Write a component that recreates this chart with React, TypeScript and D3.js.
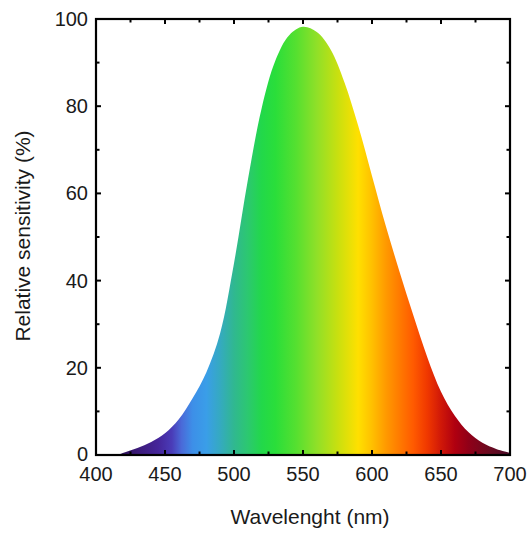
import React from "react";
import * as d3 from "d3";

const wavelengths = [416, 420, 430, 440, 450, 460, 470, 480, 490, 500, 510, 520, 530, 540, 550, 560, 570, 580, 590, 600, 610, 620, 630, 640, 650, 660, 670, 680, 690, 700];
const sensitivity = [0, 0.5, 1.6, 3.0, 5.0, 8.2, 13, 19, 28, 44, 63, 79.5, 90.5, 96.3, 98.2, 97.0, 93, 85.5, 75.5, 64, 52.5, 42, 32, 22.5, 14.5, 9, 5.2, 2.8, 1.4, 0.5];

const colorStops = [415, 430, 445, 455, 462, 470, 480, 490, 500, 510, 520, 530, 545, 560, 575, 590, 600, 610, 620, 630, 640, 650, 660, 670, 685, 700];
const colorValues = ["#2a1050", "#3b1a78", "#45259a", "#4a3cb8", "#4a6ad8", "#3d8fe8", "#3a9ee8", "#35aac0", "#30b890", "#2cc870", "#22d84a", "#2ade3a", "#55e030", "#90e028", "#c8e010", "#ffe000", "#ffc000", "#ff9a00", "#ff7a00", "#ff5a00", "#f03800", "#d01808", "#b00010", "#900018", "#6a0a20", "#4a0a28"];

const xTicks = [400, 450, 500, 550, 600, 650, 700];
const xMinor = [425, 475, 525, 575, 625, 675];
const yTicks = [0, 20, 40, 60, 80, 100];
const yMinor = [10, 30, 50, 70, 90];

const W = 528, H = 533;
const L = 96, R = 510, T = 19, B = 455;

export default function App() {
  const x = d3.scaleLinear().domain([400, 700]).range([L, R]);
  const y = d3.scaleLinear().domain([0, 100]).range([B, T]);
  const pts = wavelengths.map((w, i) => [w, sensitivity[i]] as [number, number]);
  const area = d3.area<[number, number]>()
    .x(d => x(d[0]))
    .y0(y(0))
    .y1(d => y(d[1]))
    .curve(d3.curveCatmullRom.alpha(0.5));
  const font = "'Liberation Sans', Arial, sans-serif";
  const major = 5, minor = 3.5;
  return (
    <svg width={W} height={H} style={{ position: "absolute", left: 0, top: 0 }} fontFamily={font}>
      <defs>
        <linearGradient id="spec" gradientUnits="userSpaceOnUse" x1={x(400)} x2={x(700)} y1={0} y2={0}>
          {colorStops.map((w, i) => (
            <stop key={i} offset={(w - 400) / 300} stopColor={colorValues[i]} />
          ))}
        </linearGradient>
      </defs>
      <path d={area(pts) || ""} fill="url(#spec)" />
      <rect x={L} y={T} width={R - L} height={B - T} fill="none" stroke="#000" strokeWidth={2.2} />
      {xTicks.map(t => (
        <g key={"x" + t}>
          <line x1={x(t)} x2={x(t)} y1={B} y2={B - major} stroke="#000" strokeWidth={2} />
          <line x1={x(t)} x2={x(t)} y1={T} y2={T + major} stroke="#000" strokeWidth={2} />
          <text x={x(t)} y={481} textAnchor="middle" fontSize={20} fill="#1a1a1a">{t}</text>
        </g>
      ))}
      {xMinor.map(t => (
        <g key={"xm" + t}>
          <line x1={x(t)} x2={x(t)} y1={B} y2={B - minor} stroke="#000" strokeWidth={2} />
          <line x1={x(t)} x2={x(t)} y1={T} y2={T + minor} stroke="#000" strokeWidth={2} />
        </g>
      ))}
      {yTicks.map(t => (
        <g key={"y" + t}>
          <line x1={L} x2={L + major} y1={y(t)} y2={y(t)} stroke="#000" strokeWidth={2} />
          <line x1={R} x2={R - major} y1={y(t)} y2={y(t)} stroke="#000" strokeWidth={2} />
          <text x={88} y={y(t) + (t === 0 ? 5.5 : 7)} textAnchor="end" fontSize={20} fill="#1a1a1a">{t}</text>
        </g>
      ))}
      {yMinor.map(t => (
        <g key={"ym" + t}>
          <line x1={L} x2={L + minor} y1={y(t)} y2={y(t)} stroke="#000" strokeWidth={2} />
          <line x1={R} x2={R - minor} y1={y(t)} y2={y(t)} stroke="#000" strokeWidth={2} />
        </g>
      ))}
      <text x={310} y={524} textAnchor="middle" fontSize={21} fill="#1a1a1a">Wavelenght (nm)</text>
      <text transform={`translate(30,236) rotate(-90)`} textAnchor="middle" fontSize={21} fill="#1a1a1a">Relative sensitivity (%)</text>
    </svg>
  );
}
